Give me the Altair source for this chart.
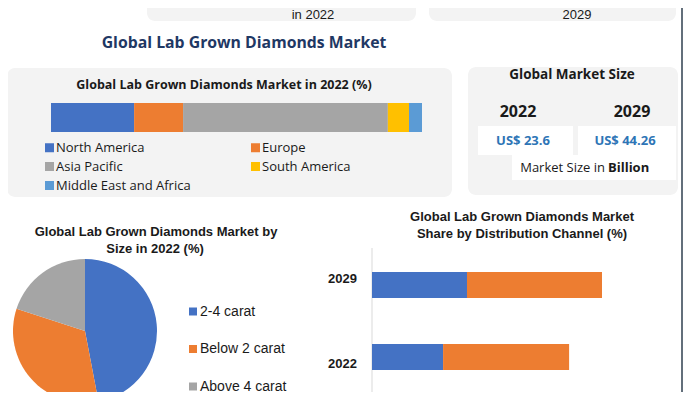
import altair as alt
import pandas as pd

# ---------------- data ----------------
regions = ["North America", "Europe", "Asia Pacific", "South America", "Middle East and Africa"]
region_share = [22.4, 13.2, 55.2, 5.7, 3.5]

sizes = ["2-4 carat", "Below 2 carat", "Above 4 carat"]
size_share = [47.0, 33.0, 20.0]

channel_years = ["2029", "2022"]
channels = ["Online", "Offline"]
channel_2029 = [41.3, 58.7]
channel_2022 = [30.9, 54.8]

market_years = ["2022", "2029"]
market_size = [23.6, 44.26]

# ---------------- style ----------------
palette_regions = ["#4472c4", "#ed7d31", "#a5a5a5", "#ffc000", "#5b9bd5"]
palette_sizes = ["#4472c4", "#ed7d31", "#a5a5a5"]
palette_channels = ["#4472c4", "#ed7d31"]
NAVY = "#1f3864"
PANEL = "#f3f3f3"
INK = "#1a1a1a"
VALUE_BLUE = "#2e75b6"
OFF = 8  # page margin
W, H = 675, 384


def px(v):
    return v - OFF


one = pd.DataFrame({"k": [0]})


def box(x1, y1, x2, y2, fill, r=0):
    return alt.Chart(one).mark_rect(fill=fill, cornerRadius=r).encode(
        x=alt.value(px(x1)), x2=alt.value(px(x2)),
        y=alt.value(px(y1)), y2=alt.value(px(y2)))


def label(s, x, y, size=13, weight="normal", color=INK, font="Liberation Sans", align="center"):
    return alt.Chart(one).mark_text(
        text=s, fontSize=size, fontWeight=weight, color=color, font=font,
        align=align, baseline="middle").encode(x=alt.value(px(x)), y=alt.value(px(y)))


layers = []

# backgrounds
layers += [
    box(147, -10, 416, 21, PANEL, 8),
    box(429, -10, 676, 21, PANEL, 8),
    box(7, 68, 452, 197, PANEL, 8),
    box(468, 67, 678, 195, PANEL, 8),
    box(478, 126, 573, 155, "white"),
    box(578, 126, 676, 155, "white"),
    box(512, 155, 676, 180, "white"),
]

# right border
layers.append(alt.Chart(one).mark_rule(color="#2f3f4f", strokeWidth=1.5).encode(
    x=alt.value(W - 1), y=alt.value(0), y2=alt.value(H)))

# regional stacked bar
reg_df = pd.DataFrame({"region": regions, "share": region_share, "idx": list(range(len(regions)))})
region_bar = alt.Chart(reg_df).transform_stack(
    stack="share", groupby=[], as_=["s0", "s1"], sort=[alt.SortField("idx", order="ascending")]
).mark_rect().encode(
    x=alt.X("s0:Q", scale=alt.Scale(domain=[0, 100], range=[px(51), px(422)]), axis=None),
    x2="s1:Q",
    y=alt.value(px(103)), y2=alt.value(px(132)),
    color=alt.Color("region:N", scale=alt.Scale(domain=regions, range=palette_regions),
                    legend=alt.Legend(orient="none", legendX=px(43), legendY=px(141),
                                      direction="horizontal", columns=2, title=None,
                                      symbolType="square", symbolSize=81, symbolStrokeWidth=0,
                                      labelFont="Open Sans", labelFontSize=13, labelColor=INK,
                                      labelOffset=0, rowPadding=5, columnPadding=58,
                                      padding=0, labelLimit=300)))
layers.append(region_bar)

# pie by size
size_df = pd.DataFrame({"size": sizes, "share": size_share, "idx": list(range(len(sizes)))})
pie = alt.Chart(size_df).mark_arc(radius=72).encode(
    theta=alt.Theta("share:Q", stack=True),
    color=alt.Color("size:N", scale=alt.Scale(domain=sizes, range=palette_sizes),
                    legend=alt.Legend(orient="none", legendX=px(186), legendY=px(304.5),
                                      direction="vertical", title=None,
                                      symbolType="square", symbolSize=64, symbolStrokeWidth=0,
                                      labelFont="Liberation Sans", labelFontSize=14, labelColor=INK,
                                      labelOffset=0, rowPadding=23.5, padding=0)),
    order=alt.Order("idx:Q"),
    x=alt.value(px(85)), y=alt.value(px(331)))
layers.append(pie)

# distribution channel bars
ch_df = pd.DataFrame({
    "year": [y for y in channel_years for _ in channels],
    "channel": channels * len(channel_years),
    "value": channel_2029 + channel_2022,
    "idx": list(range(len(channels))) * len(channel_years),
})
yscale = alt.Scale(domain=channel_years, range=[px(236), px(406)], paddingInner=0.639, paddingOuter=0.5)
layers.append(alt.Chart(one).mark_rule(color="#d9d9d9", strokeWidth=1).encode(
    x=alt.value(px(372)), y=alt.value(px(248)), y2=alt.value(H)))
dist = alt.Chart(ch_df).mark_bar().encode(
    x=alt.X("value:Q", stack="zero",
            scale=alt.Scale(domain=[0, 100], range=[px(372), px(602)]), axis=None),
    y=alt.Y("year:N", scale=yscale, axis=None),
    color=alt.Color("channel:N", scale=alt.Scale(domain=channels, range=palette_channels), legend=None),
    order=alt.Order("idx:Q"))
layers.append(dist)
year_labels = alt.Chart(pd.DataFrame({"year": channel_years})).mark_text(
    align="right", baseline="middle", fontWeight="bold", fontSize=13,
    font="Liberation Sans", color=INK).encode(
    y=alt.Y("year:N", scale=yscale, axis=None),
    x=alt.value(px(357)), text="year:N")
layers.append(year_labels)

# texts
layers += [
    label("in 2022", 313, 15),
    label("2029", 577, 15),
    label("Global Lab Grown Diamonds Market", 244, 43, 15.8, "bold", NAVY, "Open Sans"),
    label("Global Lab Grown Diamonds Market in 2022 (%)", 224, 85, 12.5, "bold", INK, "Open Sans"),
    label("Global Market Size", 572, 75, 13.5, "bold", INK, "Open Sans"),
    label("Market Size in", 605, 168, 13, "normal", INK, "Open Sans", "right"),
    label("Billion", 608, 168, 13, "bold", INK, "Open Sans", "left"),
    label("Global Lab Grown Diamonds Market by", 156, 232, 13, "bold"),
    label("Size in 2022 (%)", 155, 249, 13, "bold"),
    label("Global Lab Grown Diamonds Market", 522, 217, 13, "bold"),
    label("Share by Distribution Channel (%)", 522, 234, 13, "bold"),
]
year_x = [518, 632]
value_x = [523, 625]
for i, (yr, val) in enumerate(zip(market_years, market_size)):
    layers.append(label(yr, year_x[i], 112, 16, "bold", INK, "Open Sans"))
    layers.append(label(f"US$ {val}", value_x[i], 141, 13, "bold", VALUE_BLUE, "Open Sans"))

chart = alt.layer(*layers).resolve_scale(
    x="independent", y="independent", color="independent", theta="independent"
).resolve_legend(color="independent").properties(
    width=W, height=H, padding=0,
    autosize=alt.AutoSizeParams(type="none"),
    background="white",
).configure_view(stroke=None)

chart.save("out.html", embed_options={"renderer": "svg", "actions": False})
